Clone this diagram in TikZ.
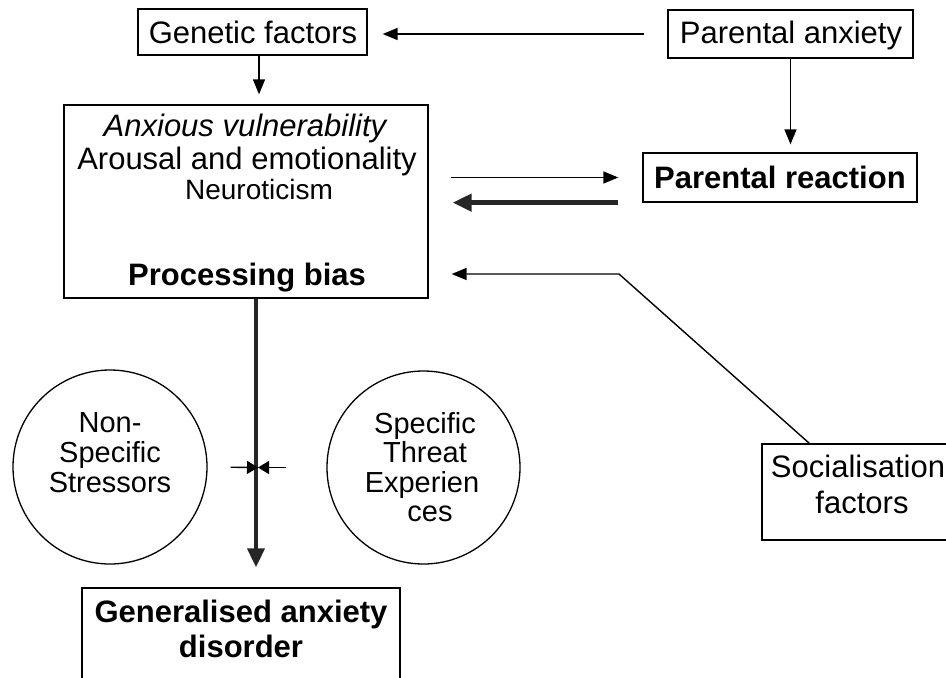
\documentclass[tikz,border=0pt]{standalone}
\usepackage{fontspec}
\setmainfont{Liberation Sans}
\usetikzlibrary{arrows.meta}
\begin{document}
\begin{tikzpicture}[x=1pt,y=-1pt,
  frame/.style={draw=black, line width=1.3pt, rectangle, inner sep=0pt},
  blob/.style={draw=black, line width=1.3pt, circle, inner sep=0pt},
  lbl/.style={inner sep=0pt, anchor=base, font=\fontsize{31}{36}\selectfont},
  circtxt/.style={inner sep=0pt, anchor=base, font=\fontsize{29}{30}\selectfont},
  link/.style={line width=1.4pt, -{Triangle[length=15pt,width=12pt]}},
  heavy/.style={line width=4.5pt, draw=black!85, -{Triangle[length=19pt,width=17pt]}},
  nudge/.style={line width=1.4pt, -{Triangle[length=11pt,width=13pt]}},
]
\useasboundingbox (0,0) rectangle (946,678);

% boxes
\node[frame, minimum width=229pt, minimum height=46pt] (gen) at (252.5,32) {};
\node[frame, minimum width=245pt, minimum height=48pt] (pa) at (790.5,34) {};
\node[frame, minimum width=274pt, minimum height=49pt] (pr) at (780,177.5) {};
\node[frame, minimum width=364pt, minimum height=193pt] (vuln) at (246,201.5) {};
\node[frame, minimum width=204pt, minimum height=96pt] (soc) at (864,492) {};
\node[frame, minimum width=318pt, minimum height=112pt] (gad) at (241,644) {};
\node[blob, minimum size=194pt] (ns) at (110,467) {};
\node[blob, minimum size=193pt] (st) at (423.5,467.5) {};

% texts
\node[lbl] (gentxt) at (253,43) {Genetic factors};
\node[lbl] (patxt) at (791,43) {Parental anxiety};
\node[lbl, font=\fontsize{31}{36}\selectfont\bfseries] (prtxt) at (780,188) {Parental reaction};
\node[lbl, font=\fontsize{31}{36}\selectfont\itshape] (vulnA) at (245,136) {Anxious vulnerability};
\node[lbl] (vulnB) at (247,169) {Arousal and emotionality};
\node[lbl, font=\fontsize{28}{30}\selectfont] (vulnC) at (259,199) {Neuroticism};
\node[lbl, font=\fontsize{31}{36}\selectfont\bfseries] (vulnD) at (247,285) {Processing bias};
\node[lbl] (socA) at (858,477) {Socialisation};
\node[lbl] (socB) at (862,513) {factors};
\node[lbl, font=\fontsize{31}{36}\selectfont\bfseries] (gadA) at (241,622) {Generalised anxiety};
\node[lbl, font=\fontsize{31}{36}\selectfont\bfseries] (gadB) at (241,657) {disorder};
\node[circtxt] (nsA) at (110,432) {Non-};
\node[circtxt] (nsB) at (110,462) {Specific};
\node[circtxt] (nsC) at (110,492) {Stressors};
\node[circtxt] (stA) at (425,433) {Specific};
\node[circtxt] (stB) at (425,462) {Threat};
\node[circtxt] (stC) at (422,492) {Experien};
\node[circtxt] (stD) at (430,521) {ces};

% helper points
\coordinate (bend) at (619,274);
\coordinate (meet) at (258,467.5);

% connectors
\draw[link, shorten <=23pt, shorten >=15pt] (pa.west) -- (pa.west -| gen.east);
\draw[link, shorten >=10pt] ([xshift=6.5pt]gen.south) -- ([xshift=13pt]vuln.north);
\draw[link, shorten >=8pt] (pa.south) -- (pa.south |- pr.north);
\draw[link, shorten <=22pt, shorten >=24pt] (vuln.east |- pr.west) -- (pr.west);
\draw[heavy, shorten <=24pt, shorten >=24pt] (pr.south west) -- (vuln.east |- pr.south west);
\draw[link, shorten >=23pt] ([xshift=48pt]soc.north west) -- (bend) -- (vuln.east |- bend);
\draw[heavy, line width=4pt, shorten >=20pt] ([xshift=10pt]vuln.south) -- ([xshift=15pt]gad.north);
\draw[nudge, shorten <=23pt] (ns.east) -- (meet);
\draw[nudge, shorten <=40pt] (st.west) -- (meet);
\end{tikzpicture}
\end{document}
